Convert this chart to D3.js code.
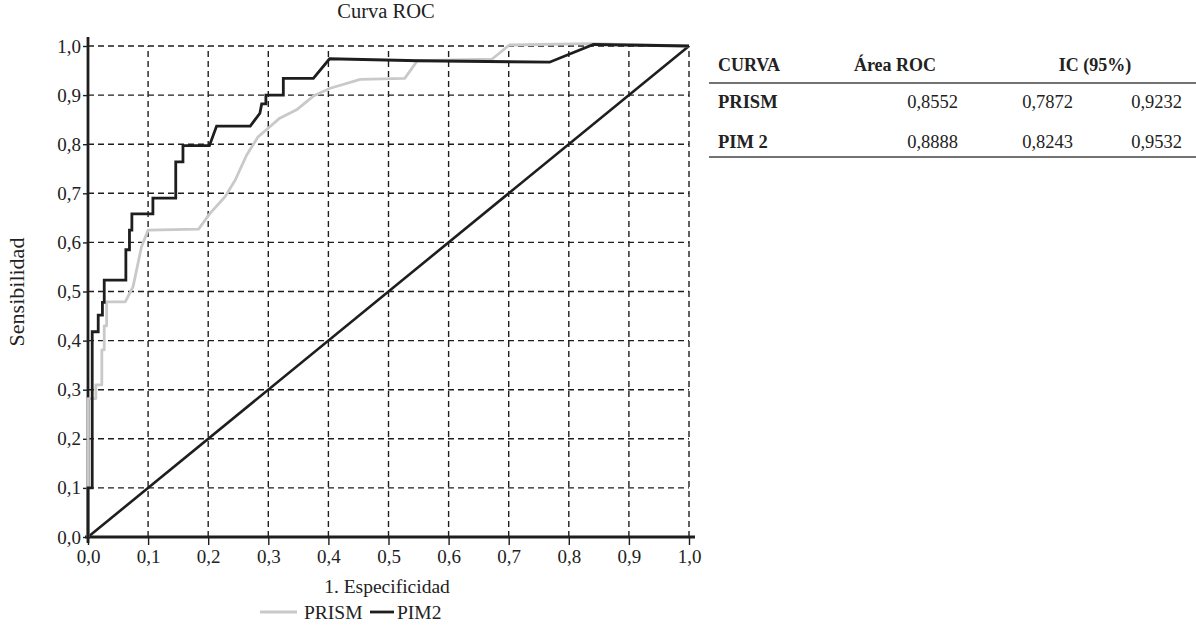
<!DOCTYPE html>
<html><head><meta charset="utf-8">
<script src="https://cdn.jsdelivr.net/npm/d3@7"></script>
<style>body{margin:0;background:#fff}svg{display:block}text{font-family:"Liberation Serif",serif;fill:#222}</style>
</head><body>
<svg id="c" width="1196" height="629"></svg>
<script>
// ---- data ----
const ticks = [0,0.1,0.2,0.3,0.4,0.5,0.6,0.7,0.8,0.9,1.0];
const tickLabels = ["0,0","0,1","0,2","0,3","0,4","0,5","0,6","0,7","0,8","0,9","1,0"];
const prismFpr = [0,0,0,0.013,0.013,0.023,0.023,0.027,0.027,0.031,0.031,0.062,0.075,0.089,0.1,0.184,0.203,0.228,0.245,0.264,0.283,0.303,0.319,0.347,0.375,0.403,0.453,0.527,0.548,0.672,0.701,0.835,1.0];
const prismTpr = [0,0.184,0.282,0.282,0.31,0.31,0.381,0.381,0.43,0.43,0.479,0.479,0.51,0.591,0.625,0.627,0.659,0.693,0.727,0.778,0.815,0.836,0.853,0.870,0.898,0.914,0.932,0.934,0.970,0.973,1.002,1.005,1.0];
const pimFpr = [0,0,0.007,0.007,0.017,0.017,0.024,0.024,0.027,0.027,0.063,0.063,0.069,0.069,0.073,0.073,0.108,0.108,0.146,0.146,0.158,0.158,0.202,0.214,0.270,0.286,0.289,0.296,0.296,0.325,0.325,0.375,0.402,0.55,0.768,0.841,1.0];
const pimTpr = [0,0.1,0.1,0.418,0.418,0.452,0.452,0.478,0.478,0.523,0.523,0.585,0.585,0.625,0.625,0.658,0.658,0.690,0.690,0.764,0.764,0.797,0.797,0.837,0.837,0.863,0.882,0.882,0.9,0.9,0.934,0.934,0.974,0.970,0.967,1.003,1.0];
const refLine = [0,1];
const seriesNames = ["PRISM","PIM2"];
const tableHeader = ["CURVA","Área ROC","IC (95%)"];
const tableCurves = ["PRISM","PIM 2"];
const tableArea = ["0,8552","0,8888"];
const tableLow = ["0,7872","0,8243"];
const tableHigh = ["0,9232","0,9532"];

// ---- chart ----
const svg = d3.select("#c");
const x = d3.scaleLinear().domain([0,1]).range([88,689]);
const y = d3.scaleLinear().domain([0,1]).range([537,46]);
const ink = "#1e1e1e";

// grid
const g = svg.append("g");
g.selectAll(".vg").data(ticks.slice(1)).join("line")
  .attr("x1",d=>x(d)).attr("x2",d=>x(d)).attr("y1",y(0)).attr("y2",y(1))
  .attr("stroke",ink).attr("stroke-width",1.4).attr("stroke-dasharray","6,4");
g.selectAll(".hg").data(ticks.slice(1)).join("line")
  .attr("y1",d=>y(d)).attr("y2",d=>y(d)).attr("x1",x(0)).attr("x2",x(1))
  .attr("stroke",ink).attr("stroke-width",1.4).attr("stroke-dasharray","6,4");

// axes
const xAxis = d3.axisBottom(x).tickValues(ticks).tickFormat((d,i)=>tickLabels[i]).tickSize(8).tickPadding(5);
const xa = svg.append("g").attr("transform",`translate(0,${y(0)})`).call(xAxis);
xa.select(".domain").remove();
xa.selectAll(".tick line").attr("stroke",ink).attr("stroke-width",1.4);
xa.selectAll("text").attr("font-size",19).attr("font-family","Liberation Serif").attr("fill",ink);
const yAxis = d3.axisLeft(y).tickValues(ticks).tickFormat((d,i)=>tickLabels[i]).tickSize(5).tickPadding(2);
const ya = svg.append("g").attr("transform",`translate(${x(0)},0)`).call(yAxis);
ya.select(".domain").remove();
ya.selectAll(".tick line").attr("stroke",ink).attr("stroke-width",1.4);
ya.selectAll("text").attr("font-size",19).attr("font-family","Liberation Serif").attr("fill",ink);

svg.append("line").attr("x1",x(0)-3).attr("x2",x(1)+6).attr("y1",y(0)).attr("y2",y(0)).attr("stroke",ink).attr("stroke-width",2.8);
svg.append("line").attr("x1",x(0)).attr("x2",x(0)).attr("y1",y(0)+6).attr("y2",y(1)-9).attr("stroke",ink).attr("stroke-width",2.8);

// reference diagonal
svg.append("line").attr("x1",x(refLine[0])).attr("y1",y(refLine[0])).attr("x2",x(refLine[1])).attr("y2",y(refLine[1]))
  .attr("stroke",ink).attr("stroke-width",2.6);

const line = d3.line().x(d=>x(d[0])).y(d=>y(d[1]));
svg.append("path").datum(prismFpr.map((v,i)=>[v,prismTpr[i]])).attr("d",line)
  .attr("fill","none").attr("stroke","#c9c9c9").attr("stroke-width",2.8).attr("stroke-linejoin","round");
svg.append("path").datum(pimFpr.map((v,i)=>[v,pimTpr[i]])).attr("d",line)
  .attr("fill","none").attr("stroke",ink).attr("stroke-width",2.8).attr("stroke-linejoin","miter");

// titles
svg.append("text").attr("x",386).attr("y",18).attr("text-anchor","middle").attr("font-size",20.5).text("Curva ROC");
svg.append("text").attr("x",387).attr("y",593).attr("text-anchor","middle").attr("font-size",19.5).text("1. Especificidad");
svg.append("text").attr("transform","translate(24,292) rotate(-90)").attr("text-anchor","middle").attr("font-size",22).text("Sensibilidad");

// legend
const leg = [{c:"#c9c9c9",x1:260,x2:297,tx:304},{c:ink,x1:370,x2:394,tx:397}];
leg.forEach((l,i)=>{
  svg.append("line").attr("x1",l.x1).attr("x2",l.x2).attr("y1",612).attr("y2",612).attr("stroke",l.c).attr("stroke-width",2.8);
  svg.append("text").attr("x",l.tx).attr("y",619).attr("font-size",19.5).text(seriesNames[i]);
});

// table
const t = svg.append("g");
t.append("text").attr("x",718).attr("y",71).attr("font-size",18).attr("font-weight","bold").text(tableHeader[0]);
t.append("text").attr("x",895).attr("y",71).attr("font-size",18).attr("font-weight","bold").attr("text-anchor","middle").text(tableHeader[1]);
t.append("text").attr("x",1095).attr("y",71).attr("font-size",18).attr("font-weight","bold").attr("text-anchor","middle").text(tableHeader[2]);
t.append("line").attr("x1",709).attr("x2",1196).attr("y1",83).attr("y2",83).attr("stroke","#444").attr("stroke-width",1.3);
tableCurves.forEach((c,i)=>{
  const yy = 108 + i*40;
  t.append("text").attr("x",718).attr("y",yy).attr("font-size",18.5).attr("font-weight","bold").text(c);
  t.append("text").attr("x",958).attr("y",yy).attr("font-size",18.5).attr("text-anchor","end").text(tableArea[i]);
  t.append("text").attr("x",1073).attr("y",yy).attr("font-size",18.5).attr("text-anchor","end").text(tableLow[i]);
  t.append("text").attr("x",1182).attr("y",yy).attr("font-size",18.5).attr("text-anchor","end").text(tableHigh[i]);
});
t.append("line").attr("x1",709).attr("x2",1196).attr("y1",157).attr("y2",157).attr("stroke","#444").attr("stroke-width",1.3);
</script>
</body></html>
